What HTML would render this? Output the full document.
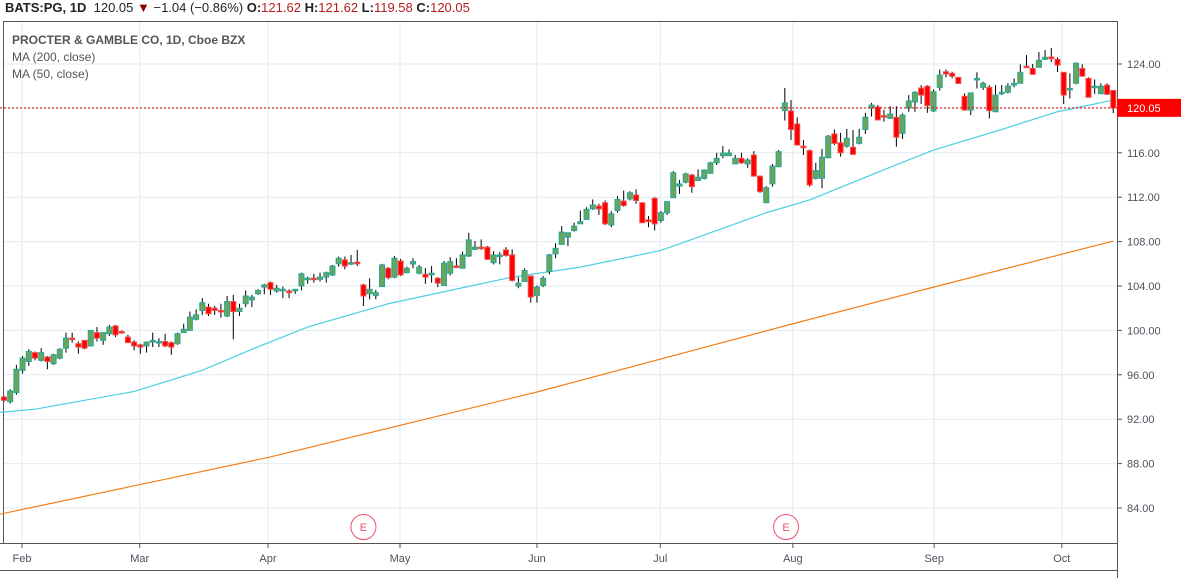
<!DOCTYPE html>
<html><head><meta charset="utf-8"><style>
body{margin:0;background:#fff;width:1181px;height:578px;overflow:hidden;font-family:"Liberation Sans",sans-serif}
svg{display:block}
</style></head><body>
<svg id="c" width="1181" height="578" xmlns="http://www.w3.org/2000/svg"></svg>
<script>
const opens=[94.0,93.58,94.4,96.4,97.2,98.0,97.3,97.6,97.0,97.5,98.4,99.3,98.8,99.1,98.6,99.8,99.1,99.7,100.4,99.9,99.4,98.95,98.7,98.6,98.95,99.0,99.0,98.9,98.8,99.8,100.0,101.0,101.8,102.1,102.0,101.8,101.3,102.6,101.7,102.4,102.75,103.3,103.9,104.3,103.55,103.6,103.55,103.6,104.0,104.6,104.7,104.6,104.8,105.0,106.0,106.35,106.05,106.15,104.1,103.3,103.15,103.95,105.6,104.8,106.25,105.2,105.98,105.15,105.05,105.05,104.7,104.05,105.15,105.8,105.6,106.7,107.3,107.5,107.5,106.1,106.65,107.25,106.8,104.0,104.4,104.9,103.15,104.05,105.3,106.9,107.75,108.4,109.0,109.6,110.0,110.95,111.2,111.5,109.5,110.8,111.65,111.85,112.2,111.5,109.95,111.9,109.9,110.6,111.95,113.0,113.35,114.0,113.5,113.7,114.15,115.1,115.74,115.74,115.0,115.5,115.0,115.8,113.9,111.5,113.2,114.75,119.8,119.77,118.6,116.6,116.2,113.7,113.7,115.56,117.7,116.9,116.6,116.5,116.85,118.1,120.04,120.13,119.35,119.1,119.2,117.76,120.04,120.58,121.84,122.0,119.77,121.9,123.3,123.16,122.8,121.1,119.85,122.6,121.9,121.9,119.7,121.4,121.45,122.1,122.26,123.8,123.6,123.7,124.42,124.63,124.42,123.25,121.8,122.26,123.6,122.7,121.9,121.33,122.1,121.62];
const highs=[94.1,94.7,96.9,97.7,98.3,98.1,98.4,97.7,97.9,98.4,99.8,99.8,99.0,99.1,100.0,100.3,99.8,100.5,100.5,100.0,99.6,99.1,98.8,99.0,99.8,99.3,99.7,99.0,99.8,100.6,101.7,101.9,102.9,102.4,102.2,102.4,103.1,103.2,102.4,103.6,103.2,103.7,104.2,104.4,104.1,103.95,103.7,103.7,105.2,104.85,105.1,105.2,105.3,105.9,106.65,106.65,106.8,107.25,104.2,104.7,103.65,106.0,105.7,106.7,106.45,105.75,106.5,105.9,105.6,105.8,104.8,106.25,106.6,106.5,107.1,108.8,108.05,108.2,107.6,107.15,107.05,107.5,107.3,104.8,105.6,104.9,104.05,104.9,106.9,107.85,109.4,108.8,109.7,110.8,111.1,111.8,111.4,111.7,110.75,112.1,112.6,112.55,112.7,111.5,110.3,112.0,110.75,111.6,114.35,113.55,114.2,114.1,114.5,114.5,115.2,116.0,116.6,116.3,115.8,116.0,115.5,116.15,113.9,113.0,114.99,116.25,121.84,120.76,119.2,117.15,116.3,115.1,116.35,117.6,118.1,117.8,118.15,118.05,118.15,119.6,120.5,120.3,119.86,120.2,120.2,119.56,121.2,121.54,122.1,122.1,121.7,123.5,123.5,123.3,122.8,121.35,121.4,123.25,122.4,122.1,122.1,122.1,122.26,122.7,123.97,124.8,124.0,125.08,125.26,125.44,124.6,123.25,123.16,124.15,123.97,122.8,122.6,122.26,122.26,121.62];
const lows=[93.6,93.4,94.2,96.1,96.8,97.3,97.2,96.5,96.9,97.4,98.0,98.9,97.9,98.3,98.6,99.0,98.7,99.5,99.4,99.7,98.9,98.2,97.9,98.0,98.5,98.5,98.5,97.8,98.7,99.8,100.0,100.9,101.4,101.3,101.4,101.15,101.2,99.2,101.3,102.1,102.1,103.2,103.25,103.2,103.4,102.9,102.9,103.3,103.6,104.2,104.3,104.4,104.3,104.9,105.75,105.5,105.9,105.8,102.2,102.8,102.8,103.95,104.6,104.7,104.9,105.15,105.6,105.05,104.2,104.3,103.9,104.05,104.95,105.6,105.6,106.6,107.25,107.25,106.35,105.95,105.95,106.65,104.4,103.8,104.4,102.5,102.5,103.9,105.05,106.5,107.75,107.6,108.9,109.6,109.95,110.85,110.4,109.5,109.3,110.6,111.15,111.7,111.4,109.7,109.3,109.0,109.7,110.4,111.95,112.3,113.25,112.4,113.5,113.6,114.15,114.9,115.5,115.74,115.0,115.0,114.65,113.9,112.4,111.5,112.95,114.7,118.9,117.15,116.7,115.8,112.95,113.6,112.8,115.5,116.7,115.65,116.46,115.8,116.76,117.7,119.26,118.96,118.8,119.05,116.55,117.25,119.7,119.7,120.4,119.6,119.68,121.6,122.8,122.7,122.2,119.8,119.4,121.8,121.66,119.1,119.7,121.2,121.35,121.9,122.26,123.7,123.07,123.7,124.36,124.18,123.28,120.4,120.9,122.17,122.86,121.0,121.3,121.27,121.2,119.58];
const closes=[93.7,94.54,96.5,97.5,98.1,97.5,98.0,97.2,97.8,98.3,99.3,99.25,98.5,98.4,100.0,99.3,99.8,100.3,99.6,99.8,98.9,98.6,98.5,98.95,99.1,99.0,98.6,98.5,99.7,100.1,101.2,101.4,102.5,101.5,101.8,101.7,102.6,101.7,102.0,103.1,103.0,103.6,104.1,103.7,103.8,103.7,103.4,103.7,105.1,104.7,104.65,104.8,105.2,105.8,106.5,105.8,106.1,106.0,103.1,103.7,103.4,105.9,104.75,106.5,105.0,105.6,106.2,105.7,104.8,105.15,104.25,106.05,106.2,105.7,106.8,108.15,107.5,107.4,106.4,106.8,106.8,106.75,104.5,104.25,105.4,103.0,103.9,104.7,106.8,107.4,108.85,108.8,109.4,109.8,110.9,111.3,110.95,109.6,110.5,111.8,111.25,112.4,111.7,109.7,109.8,109.6,110.6,111.6,114.2,113.2,114.1,112.95,113.8,114.45,115.1,115.5,115.98,115.98,115.5,115.1,115.35,113.9,112.5,112.85,114.8,116.1,120.5,118.1,116.7,116.46,113.1,114.4,115.6,117.5,116.85,116.0,117.3,115.86,117.4,119.2,120.3,118.96,119.3,119.5,117.4,119.4,120.67,121.45,121.2,120.25,121.5,123.0,123.1,122.9,122.25,119.85,121.4,122.7,122.26,119.8,121.2,121.45,122.0,122.26,123.25,123.7,123.07,124.33,124.6,124.48,123.9,121.2,121.8,124.06,122.9,121.0,122.0,122.0,121.27,120.05];
const ma50Idx=[-1,5,21,32,40,49,62,82,93,106,111,123,130,143,150,161,170,179];
const ma50Val=[92.6,92.9,94.5,96.4,98.3,100.3,102.4,104.8,105.7,107.2,108.2,110.6,111.75,114.7,116.25,118.1,119.7,120.75];
const ma200Idx=[-1,43,86,128,150,179];
const ma200Val=[83.4,88.6,94.45,100.7,103.9,108.05];
const yTicks=[124,120,116,112,108,104,100,96,92,88,84];
const months=["Feb","Mar","Apr","May","Jun","Jul","Aug","Sep","Oct"];
const monthIdx=[2.9,21.9,42.6,63.9,86,105.9,127.3,150.1,170.7];
const earnIdx=[58,126.2];
const last=120.05;

const S='http://www.w3.org/2000/svg', svg=document.getElementById('c');
const X=i=>4+i*6.197, Y=p=>64+(124-p)*11.1;
function mk(t,a,p){const e=document.createElementNS(S,t);for(const k in a)e.setAttribute(k,a[k]);(p||svg).appendChild(e);return e;}
function fmt(v){return v.toFixed(2);}
// frame
mk('rect',{x:0,y:0,width:1181,height:578,fill:'#fff'});
const grid=mk('g',{});


yTicks.forEach(v=>{mk('line',{x1:3,x2:1117,y1:Y(v),y2:Y(v),stroke:'#e1ecf2','stroke-width':1},grid);});
monthIdx.forEach(m=>{mk('line',{x1:X(m),x2:X(m),y1:21,y2:543,stroke:'#e1ecf2','stroke-width':1},grid);});
mk('line',{x1:3.5,x2:3.5,y1:21,y2:543,stroke:'#555','stroke-width':1});
mk('line',{x1:3,x2:1117,y1:21.5,y2:21.5,stroke:'#555','stroke-width':1});
mk('line',{x1:1117.5,x2:1117.5,y1:21,y2:578,stroke:'#555','stroke-width':1});
mk('line',{x1:0,x2:1117,y1:543.5,y2:543.5,stroke:'#555','stroke-width':1});
mk('line',{x1:0,x2:1117,y1:570.5,y2:570.5,stroke:'#555','stroke-width':1});
// y axis labels
yTicks.forEach(v=>{
 mk('line',{x1:1117,x2:1122,y1:Y(v),y2:Y(v),stroke:'#555'});
 const t=mk('text',{x:1127,y:Y(v)+4,'font-size':11,fill:'#4c525e'});t.textContent=fmt(v);
 
 
});
months.forEach((m,k)=>{
 mk('line',{x1:X(monthIdx[k]),x2:X(monthIdx[k]),y1:543,y2:548,stroke:'#555'});
 const t=mk('text',{x:X(monthIdx[k]),y:562,'font-size':11,fill:'#4c525e','text-anchor':'middle'});t.textContent=m;
 
 
});
// MAs
function line(idx,val,col,name){
 const p=mk('polyline',{points:idx.map((i,k)=>X(i)+','+Y(val[k])).join(' '),fill:'none',stroke:col,'stroke-width':1.2});
 
 
}
line(ma200Idx,ma200Val,'#f57f17','ma200-line');
line(ma50Idx,ma50Val,'#4dd0e1','ma50-line');
// candles
const cg=mk('g',{});


opens.forEach((o,i)=>{
 const c=closes[i],x=X(i),up=c>=o;
 const g=mk('g',{},cg);
 
 
 mk('line',{x1:x,x2:x,y1:Y(highs[i]),y2:Y(lows[i]),stroke:'#000','stroke-width':1},g);
 const top=Y(Math.max(o,c)),h=Math.max(1.5,Math.abs(Y(o)-Y(c)));
 mk('rect',{x:x-2.5,y:top,width:5,height:h,fill:up?'#6ba55a':'#ff0000',stroke:up?'#26a69a':'#ef5350','stroke-width':1},g);
});
// last price line
mk('line',{x1:0,x2:1117,y1:Y(last),y2:Y(last),stroke:'#d00','stroke-width':1,'stroke-dasharray':'2,2'});
mk('rect',{x:1117,y:Y(last)-9,width:64,height:18,fill:'#ff0000'});
const lp=mk('text',{x:1127,y:Y(last)+4,'font-size':11,fill:'#fff'});lp.textContent=fmt(last);


// earnings markers
earnIdx.forEach(i=>{
 const g=mk('g',{});
 
 
 mk('circle',{cx:X(i),cy:527,r:12.5,fill:'#fff',stroke:'#f0506e','stroke-width':1},g);
 const t=mk('text',{x:X(i),y:531,'font-size':11,fill:'#f0506e','text-anchor':'middle'},g);t.textContent='E';
});
</script>
<div style="position:absolute;left:5px;top:0;font-size:13px;color:#222;white-space:nowrap;line-height:16px"><b>BATS:PG, 1D</b>&nbsp; 120.05 <span style="color:#8b0000">▼</span> −1.04 (−0.86%) <b>O:</b><span style="color:#b71c1c">121.62</span> <b>H:</b><span style="color:#b71c1c">121.62</span> <b>L:</b><span style="color:#b71c1c">119.58</span> <b>C:</b><span style="color:#b71c1c">120.05</span></div>
<div style="position:absolute;left:12px;top:32px;font-size:12px;color:#555;line-height:17px">
<div><b>PROCTER &amp; GAMBLE CO, 1D, Cboe BZX</b></div>
<div>MA (200, close)</div>
<div>MA (50, close)</div>
</div>
</body></html>
